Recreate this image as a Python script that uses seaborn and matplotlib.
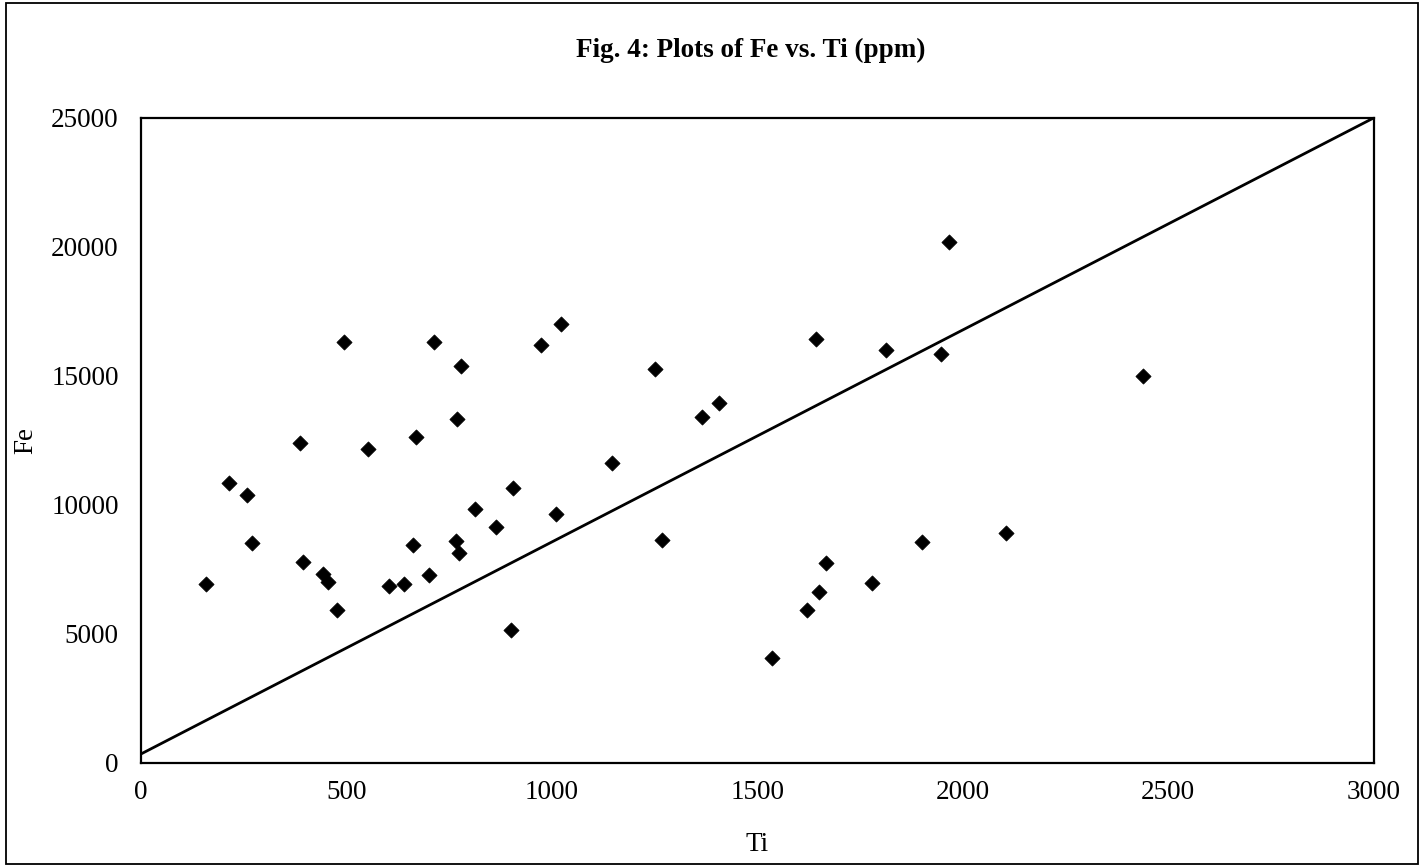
import matplotlib
matplotlib.use("Agg")
import matplotlib.pyplot as plt
import seaborn as sns
import pandas as pd
from matplotlib.patches import Rectangle

# Data
ti = [158, 213, 257, 270, 386, 395, 443, 456, 478, 494, 553, 604, 640, 662, 668,
      701, 712, 766, 769, 773, 779, 813, 863, 900, 905, 974, 1010, 1022, 1147, 1250,
      1269, 1365, 1406, 1535, 1620, 1642, 1650, 1667, 1778, 1812, 1900, 1948, 1966,
      2105, 2439]
fe = [6950, 10840, 10370, 8540, 12400, 7790, 7330, 7000, 5910, 16320, 12150, 6870,
      6940, 8450, 12620, 7270, 16330, 8590, 13320, 8140, 15380, 9830, 9150, 5140,
      10650, 16190, 9650, 17010, 11610, 15270, 8630, 13390, 13940, 4060, 5940, 16420,
      6630, 7750, 6960, 16000, 8570, 15840, 20200, 8930, 15000]
line_ti = [0, 3000]
line_fe = [350, 25000]
x_ticks = [0, 500, 1000, 1500, 2000, 2500, 3000]
y_ticks = [0, 5000, 10000, 15000, 20000, 25000]

sns.set_style("white")
plt.rcParams['font.family'] = ['Liberation Serif', 'DejaVu Serif']
plt.rcParams['text.color'] = 'black'
plt.rcParams['axes.labelcolor'] = 'black'
plt.rcParams['xtick.color'] = 'black'
plt.rcParams['ytick.color'] = 'black'

fig = plt.figure(figsize=(14.25, 8.67), dpi=100)
ax = fig.add_axes([0.099, 0.12, 0.865, 0.744])

df = pd.DataFrame({"Ti": ti, "Fe": fe})
line_df = pd.DataFrame({"Ti": line_ti, "Fe": line_fe})

sns.lineplot(data=line_df, x="Ti", y="Fe", color="black", linewidth=2.0, ax=ax)
sns.scatterplot(data=df, x="Ti", y="Fe", marker="D", s=60, color="black",
                edgecolor="black", linewidth=0.5, ax=ax, zorder=3)

ax.set_xlim(0, 3000)
ax.set_ylim(0, 25000)
ax.set_xticks(x_ticks)
ax.set_yticks(y_ticks)
ax.tick_params(axis="x", direction="inout", length=14, width=1.2, labelsize=19.5,
               pad=5, colors="black")
ax.tick_params(axis="y", direction="out", length=7, width=1.2, labelsize=19.5,
               pad=9, colors="black")
for sp in ax.spines.values():
    sp.set_visible(True)
    sp.set_color("black")
    sp.set_linewidth(1.6)

ax.set_xlabel("Ti", fontsize=19.5, color="black")
ax.set_ylabel("Fe", fontsize=19.5, color="black")
ax.xaxis.set_label_coords(0.5, -0.107)
ax.yaxis.set_label_coords(-0.0835, 0.5)
fig.text(0.527, 0.942, "Fig. 4: Plots of Fe vs. Ti (ppm)", ha="center", va="center",
         fontsize=19.5, fontweight="bold", color="black")

fig.patches.append(Rectangle((0.004, 0.004), 0.991, 0.992, transform=fig.transFigure,
                             fill=False, edgecolor="black", linewidth=1.3))

fig.savefig("out.png", dpi=100)
